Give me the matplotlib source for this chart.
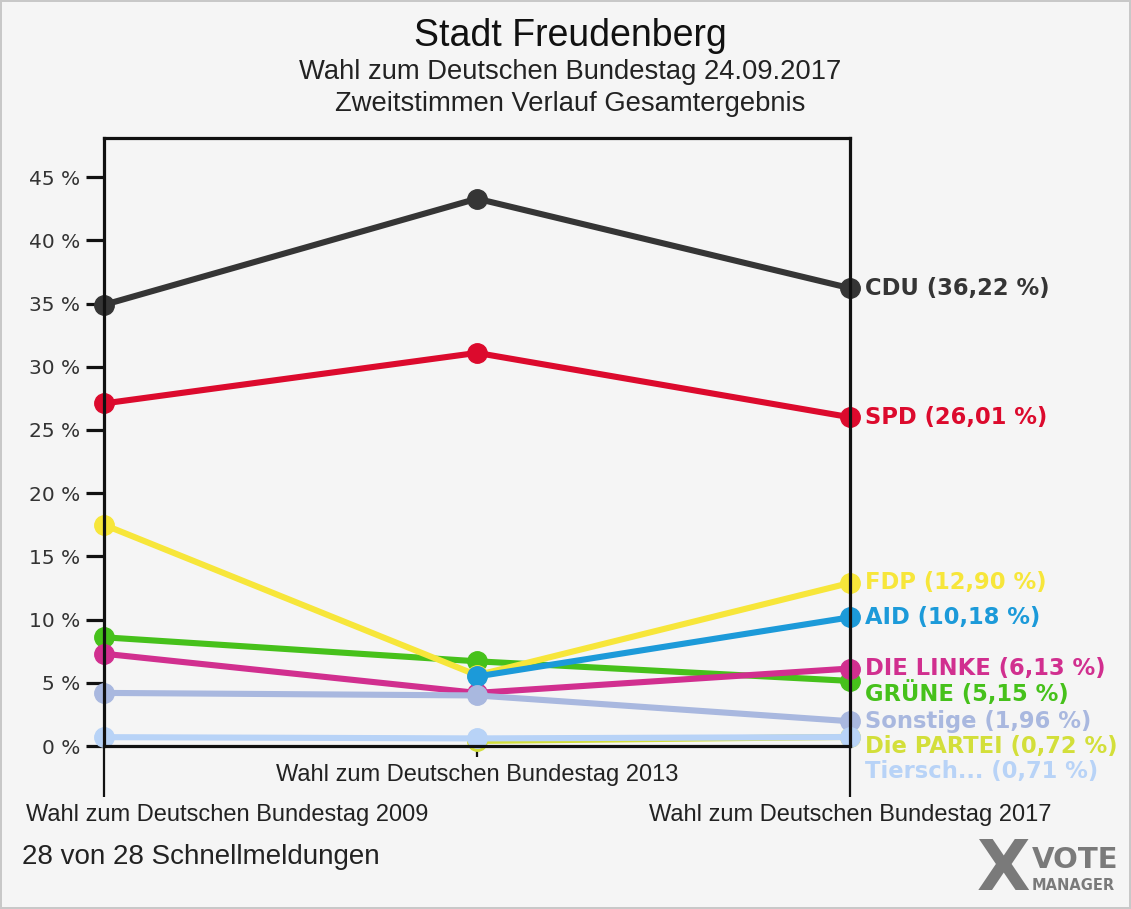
import numpy as np
from matplotlib import pyplot as plt

# data
elections = ['Wahl zum Deutschen Bundestag 2009',
             'Wahl zum Deutschen Bundestag 2013',
             'Wahl zum Deutschen Bundestag 2017']
label_names = ['CDU', 'SPD', 'GRÜNE', 'FDP', 'DIE LINKE', 'AID', 'Die PARTEI', 'Sonstige', 'Tiersch...']
cdu = [34.9, 43.3, 36.22]
spd = [27.1, 31.1, 26.01]
gruene = [8.6, 6.7, 5.15]
fdp = [17.5, 5.6, 12.90]
linke = [7.3, 4.2, 6.13]
afd = [np.nan, 5.5, 10.18]
partei = [np.nan, 0.4, 0.72]
sonstige = [4.2, 4.0, 1.96]
tiersch = [0.7, 0.6, 0.71]
colors = ['#353535', '#dc0a2d', '#46c11b', '#f7e63a', '#d12f8f', '#1c9ad9', '#d3df3a', '#a9b8df', '#b8d3f7']
yticks = [0, 5, 10, 15, 20, 25, 30, 35, 40, 45]

series = [cdu, spd, gruene, fdp, linke, afd, partei, sonstige, tiersch]
bg = '#f5f5f5'


def main():
    plt.rcParams['font.family'] = ['Liberation Sans', 'DejaVu Sans']
    fig = plt.figure(figsize=(11.31, 9.09), dpi=100, facecolor=bg)
    fig.patch.set_edgecolor('#c8c8c8')
    fig.patch.set_linewidth(1.5)
    ax = fig.add_axes([104/1131, 163/909, 746/1131, 608/909], facecolor=bg)

    x = np.arange(len(elections))
    for vals, col in zip(series, colors):
        ax.plot(x, vals, color=col, lw=4.4, marker='o', ms=14, clip_on=False,
                solid_capstyle='round')

    ax.set_xlim(0, 2)
    ax.set_ylim(0, 48.1)

    for side in ['top', 'left', 'right', 'bottom']:
        ax.spines[side].set_linewidth(2.3)
        ax.spines[side].set_color('#111111')

    ax.set_yticks(yticks)
    ax.set_yticklabels(['%d %%' % v for v in yticks], fontsize=14.5, color='#333333',
                       family='DejaVu Sans')
    ax.tick_params(axis='y', length=13, width=2.3, pad=4, colors='#111111', labelcolor='#333333')

    # x ticks: long ones at the outer elections, short one in the middle
    ax.set_xticks([0, 2])
    ax.set_xticks([1], minor=True)
    ax.set_xticklabels([])
    ax.tick_params(axis='x', which='major', length=37, width=1.6, colors='#111111')
    ax.tick_params(axis='x', which='minor', length=8, width=1.6, colors='#111111')
    offsets = [(-56, -50, 'left'), (0, -21, 'center'), (0, -50, 'center')]
    for xi, lab, (dx, dy, ha) in zip(x, elections, offsets):
        ax.annotate(lab, xy=(xi, 0), xytext=(dx, dy), textcoords='offset points',
                    ha=ha, va='center', fontsize=17, color='#222222', annotation_clip=False)

    # labels at the right, pushed apart so they do not overlap
    last = [s[-1] for s in series]
    order = np.argsort(last)[::-1]
    label_y = {}
    prev = None
    for i in order:
        y = last[i]
        if prev is not None and prev - y < 2.0:
            y = prev - 2.0
        label_y[i] = y
        prev = y
    for i in order:
        txt = '%s (%s %%)' % (label_names[i], ('%.2f' % last[i]).replace('.', ','))
        ax.annotate(txt, xy=(2, label_y[i]), xytext=(11, 0), textcoords='offset points',
                    ha='left', va='center', fontsize=16.3, fontweight='semibold',
                    color=colors[i], family='DejaVu Sans', annotation_clip=False)

    fig.text(0.504, 1 - 36/909, 'Stadt Freudenberg', ha='center', va='center', fontsize=27, color='#111111')
    fig.text(0.504, 1 - 72/909, 'Wahl zum Deutschen Bundestag 24.09.2017', ha='center', va='center',
             fontsize=19.7, color='#222222')
    fig.text(0.504, 1 - 104/909, 'Zweitstimmen Verlauf Gesamtergebnis', ha='center', va='center',
             fontsize=19.7, color='#222222')
    fig.text(22/1131, 1 - 857/909, '28 von 28 Schnellmeldungen', ha='left', va='center',
             fontsize=20, color='#222222')

    # vote manager logo
    fig.text(1003/1131, 1 - 870/909, 'X', ha='center', va='center', fontsize=50, fontweight='bold',
             color='#7a7a7a', family='DejaVu Sans')
    fig.text(1032/1131, 1 - 860/909, 'VOTE', ha='left', va='center', fontsize=21, fontweight='bold',
             color='#7a7a7a', family='DejaVu Sans')
    fig.text(1032/1131, 1 - 886/909, 'MANAGER', ha='left', va='center', fontsize=10.5, fontweight='bold',
             color='#7a7a7a', family='DejaVu Sans')

    fig.savefig('out.png', dpi=100, facecolor=bg, edgecolor=fig.patch.get_edgecolor())


if __name__ == '__main__':
    main()
